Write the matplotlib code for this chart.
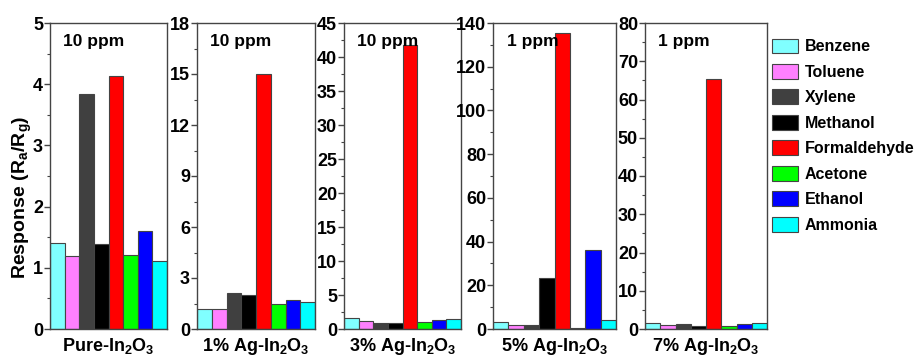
import numpy as np
import matplotlib.pyplot as plt
from matplotlib.patches import Patch
from matplotlib.ticker import MultipleLocator

plt.rcParams['font.family'] = ['Liberation Sans', 'DejaVu Sans']
plt.rcParams['font.weight'] = 'bold'
plt.rcParams['mathtext.fontset'] = 'custom'
plt.rcParams['mathtext.rm'] = 'Liberation Sans:bold'
plt.rcParams['mathtext.it'] = 'Liberation Sans:bold'
plt.rcParams['mathtext.default'] = 'rm'

gases = ['Benzene', 'Toluene', 'Xylene', 'Methanol', 'Formaldehyde',
         'Acetone', 'Ethanol', 'Ammonia']
colors = ['#80FFFF', '#FF80FF', '#404040', '#000000', '#FF0000',
          '#00FF00', '#0000FF', '#00FFFF']

samples = ['Pure-In$_2$O$_3$', '1% Ag-In$_2$O$_3$', '3% Ag-In$_2$O$_3$',
           '5% Ag-In$_2$O$_3$', '7% Ag-In$_2$O$_3$']
conc = ['10 ppm', '10 ppm', '10 ppm', '1 ppm', '1 ppm']

pure = [1.41, 1.19, 3.84, 1.39, 4.14, 1.21, 1.60, 1.11]
ag1 = [1.2, 1.2, 2.12, 1.98, 15.0, 1.45, 1.7, 1.59]
ag3 = [1.67, 1.13, 0.93, 0.93, 41.7, 1.08, 1.37, 1.47]
ag5 = [3.2, 2.0, 1.8, 23.3, 135.3, 0.6, 36.0, 4.0]
ag7 = [1.6, 0.96, 1.4, 0.9, 65.4, 0.7, 1.3, 1.5]
responses = [pure, ag1, ag3, ag5, ag7]

ymax = [5, 18, 45, 140, 80]
major = [1, 3, 5, 20, 10]

# axes boxes in pixels: left, width
boxes = [(50, 117), (197, 118), (344, 117), (493, 123), (645, 122)]
W, H = 921, 361
top, bot = 23, 329

fig = plt.figure(figsize=(W / 100, H / 100), dpi=100)
edge = '#444444'

for i in range(5):
    l, w = boxes[i]
    ax = fig.add_axes([l / W, (H - bot) / H, w / W, (bot - top) / H])
    x = np.arange(len(gases))
    ax.bar(x, responses[i], width=1.0, color=colors, edgecolor=edge, linewidth=0.8)
    ax.set_xlim(-0.5, 7.5)
    ax.set_ylim(0, ymax[i])
    ax.yaxis.set_major_locator(MultipleLocator(major[i]))
    ax.yaxis.set_minor_locator(MultipleLocator(major[i] / 2))
    ax.set_xticks([])
    ax.tick_params(axis='y', which='major', length=4, width=1, labelsize=13,
                   pad=1, color=edge)
    ax.tick_params(axis='y', which='minor', length=2, width=0.8, color=edge)
    for lab in ax.get_yticklabels():
        lab.set_fontweight('bold')
    for s in ax.spines.values():
        s.set_color(edge)
        s.set_linewidth(1)
    ax.text(0.11, 0.965, conc[i], transform=ax.transAxes, ha='left', va='top',
            fontsize=12.5, fontweight='bold')
    ax.set_xlabel(samples[i], fontsize=13, fontweight='bold', labelpad=5)

fig.text(22 / W, 1 - 197 / H, 'Response (R$_a$/R$_g$)', rotation=90,
         ha='center', va='center', fontsize=14, fontweight='bold')

handles = [Patch(facecolor=c, edgecolor=edge, linewidth=0.8) for c in colors]
fig.legend(handles, gases, loc='upper left', bbox_to_anchor=(771.5 / W, 1 - 38.5 / H),
           frameon=False, handlelength=1.67, handleheight=1.06,
           labelspacing=0.6, handletextpad=0.42, borderaxespad=0,
           borderpad=0, prop={'weight': 'bold', 'size': 11.5})

fig.savefig('out.png', dpi=100)
